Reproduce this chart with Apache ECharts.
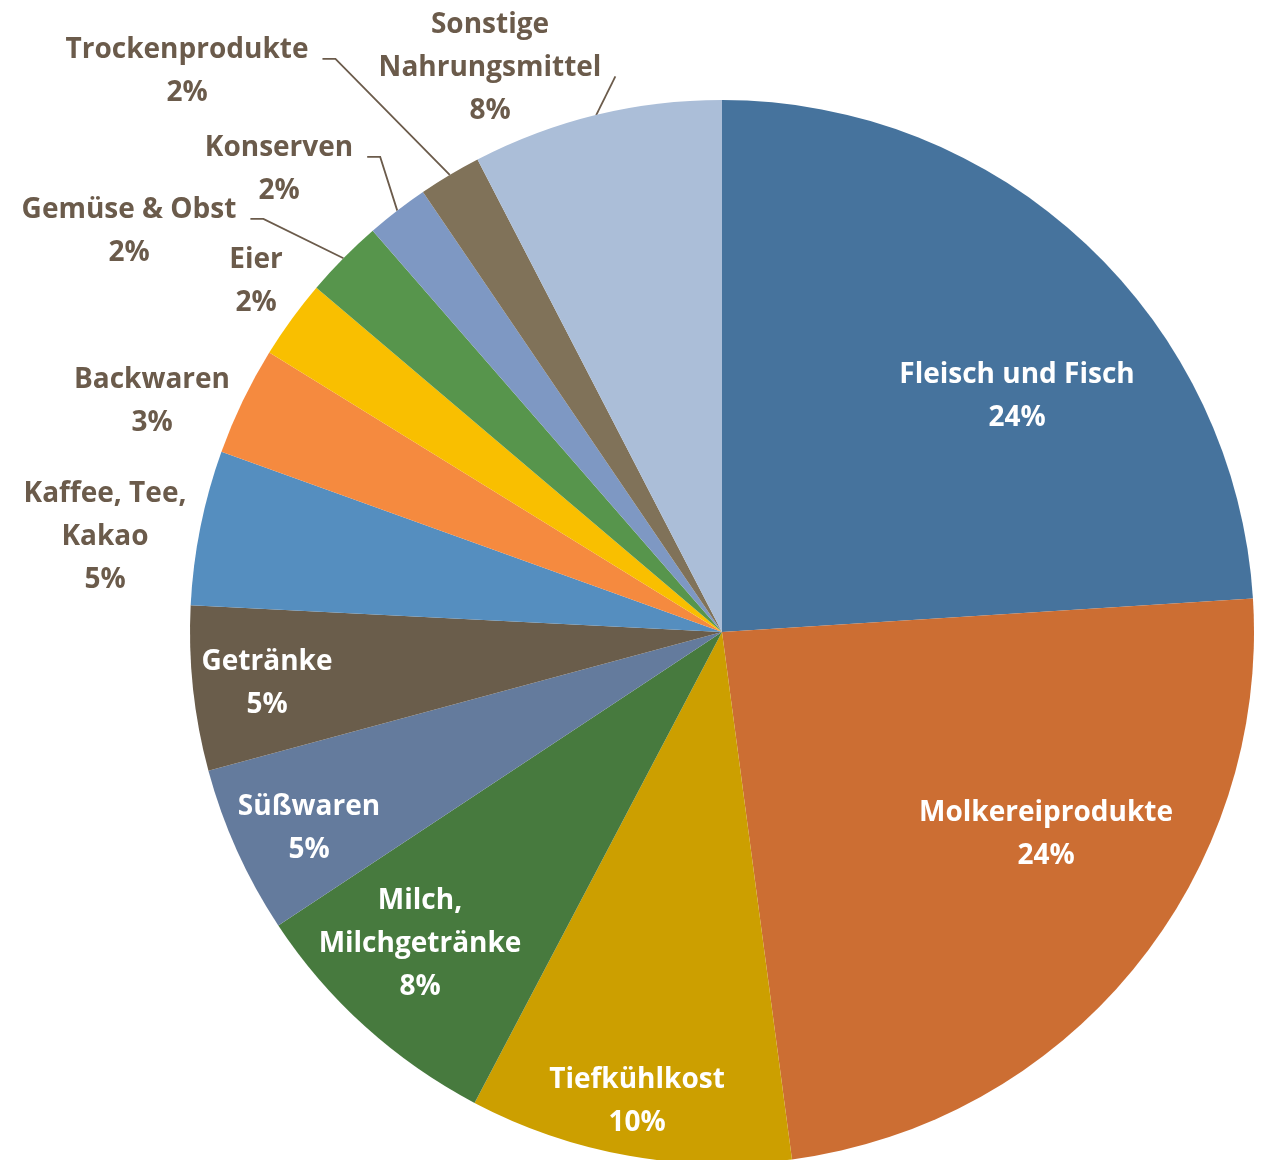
<!DOCTYPE html>
<html>
<head>
<meta charset="utf-8">
<script src="https://cdn.jsdelivr.net/npm/echarts@6/dist/echarts.min.js"></script>
<style>
  html, body { margin: 0; padding: 0; background: #ffffff; }
  #chart { width: 1263px; height: 1160px; }
</style>
</head>
<body>
<div id="chart"></div>
<script>
// ---- data ----
const categories = [
  'Fleisch und Fisch', 'Molkereiprodukte', 'Tiefkühlkost', 'Milch,\nMilchgetränke',
  'Süßwaren', 'Getränke', 'Kaffee, Tee,\nKakao', 'Backwaren', 'Eier',
  'Gemüse & Obst', 'Konserven', 'Trockenprodukte', 'Sonstige\nNahrungsmittel'
];
const shares = [24.0, 23.9, 9.8, 8.0, 5.1, 5.0, 4.7, 3.3, 2.4, 2.4, 1.9, 1.9, 7.6];

// ---- styles ----
const colors = [
  '#46739D', '#CC6E33', '#CC9F00', '#477A3E', '#647B9D', '#6A5D4B', '#558EBF',
  '#F58A3F', '#F9BF00', '#57954C', '#7E98C3', '#807259', '#ABBED8'
];
const TEXT_DARK = '#6B5B4B';
const insideLabel = [true, true, true, true, true, true, false, false, false, false, false, false, false];
// label block centre offsets relative to the pie centre (px)
const labelOffsets = [
  [295, -235], [324, 203], [-85, 470], [-302, 312], [-413, 197], [-455, 52],
  [-617, -95], [-570, -230], [-466, -350], [-593, -400], [-443, -462], [-535, -560], [-232, -564]
];
// leader lines: row of text the line starts from, horizontal knee length
const leaders = [null, null, null, null, null, null, null, null, null,
  { row: 0, knee: 13 }, { row: 0, knee: 13 }, { row: 0, knee: 13 }, { row: 1, knee: 0 }];

const CENTER = [722, 632];
const RADIUS = 532;
const FONT = 28;
const LINE_H = 43;

const total = shares.reduce((a, b) => a + b, 0);
const cum = [];
shares.reduce((acc, v, i) => { cum[i] = acc; return acc + v; }, 0);

const data = categories.map((name, i) => ({
  name: name,
  value: shares[i],
  itemStyle: { color: colors[i] },
  label: {
    position: insideLabel[i] ? 'inside' : 'outside',
    color: insideLabel[i] ? '#ffffff' : TEXT_DARK
  },
  labelLine: { show: !!leaders[i] }
}));

const chart = echarts.init(document.getElementById('chart'), null, { renderer: 'canvas' });
chart.setOption({
  backgroundColor: '#ffffff',
  animation: false,
  series: [{
    type: 'pie',
    center: CENTER,
    radius: RADIUS,
    startAngle: 90,
    clockwise: true,
    avoidLabelOverlap: false,
    data: data,
    itemStyle: { borderWidth: 0 },
    label: {
      show: true,
      fontFamily: '"Open Sans", Lato, sans-serif',
      fontWeight: 'bold',
      fontSize: FONT,
      lineHeight: LINE_H,
      align: 'center',
      formatter: function (p) {
        return p.name + '\n' + Math.round(p.value / total * 100) + '%';
      }
    },
    labelLine: {
      show: false,
      length: 10,
      length2: 10,
      lineStyle: { color: TEXT_DARK, width: 1.8 }
    },
    labelLayout: function (p) {
      const i = p.dataIndex;
      const x = CENTER[0] + labelOffsets[i][0];
      const y = CENTER[1] + labelOffsets[i][1];
      const out = { x: x, y: y, align: 'center', verticalAlign: 'middle' };
      const ld = leaders[i];
      if (ld) {
        const w = p.labelRect.width, h = p.labelRect.height;
        const rows = categories[i].split('\n').length + 1;
        const lh = h / rows;
        const sx = x + w / 2 + 14;
        const sy = y - h / 2 + lh * (ld.row + 0.5) + FONT * 0.3;
        const theta = (cum[i] + shares[i] / 2) / total * 2 * Math.PI;
        const ex = CENTER[0] + RADIUS * Math.sin(theta);
        const ey = CENTER[1] - RADIUS * Math.cos(theta);
        const pts = [[ex, ey]];
        if (ld.knee) pts.push([sx + ld.knee, sy]);
        pts.push([sx, sy]);
        out.labelLinePoints = pts;
      }
      return out;
    }
  }]
});
</script>
</body>
</html>
